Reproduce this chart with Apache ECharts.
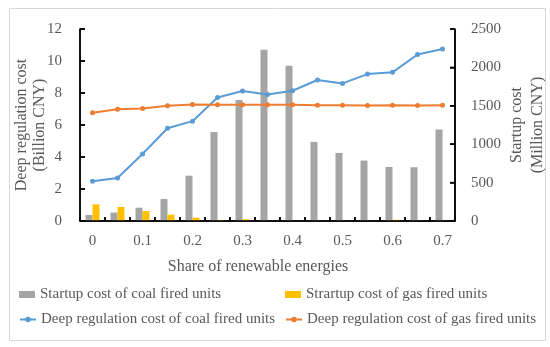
<!DOCTYPE html>
<html>
<head>
<meta charset="utf-8">
<script src="https://cdn.jsdelivr.net/npm/echarts@6/dist/echarts.min.js"></script>
<style>html,body{margin:0;padding:0;background:#fff;}#c{width:550px;height:347px;}</style>
</head>
<body>
<div id="c"></div>
<script>
const categories = ['0','0.05','0.1','0.15','0.2','0.25','0.3','0.35','0.4','0.45','0.5','0.55','0.6','0.65','0.7'];
const coalStartup = [78, 110, 173, 286, 590, 1159, 1576, 2230, 2022, 1030, 887, 787, 704, 700, 1191];
const gasStartup = [217, 183, 130, 83, 43, 13, 22, 2, 2, 2, 2, 2, 15, 2, 2];
const coalDeep = [2.48, 2.69, 4.19, 5.80, 6.24, 7.72, 8.12, 7.91, 8.14, 8.81, 8.60, 9.18, 9.29, 10.41, 10.75];
const gasDeep = [6.76, 6.99, 7.03, 7.20, 7.28, 7.26, 7.26, 7.26, 7.26, 7.24, 7.24, 7.22, 7.24, 7.22, 7.24];
const seriesNames = ['Startup cost of coal fired units', 'Strartup cost of gas fired units', 'Deep regulation cost of coal fired units', 'Deep regulation cost of gas fired units'];
const leftTicks = [0, 2, 4, 6, 8, 10, 12];
const rightTicks = [0, 500, 1000, 1500, 2000, 2500];

const FONT = '"Liberation Serif", "Times New Roman", serif';
const TXT = '#595959';
const COLORS = ['#A5A5A5', '#FFC000', '#5B9BD5', '#ED7D31'];

function lg(name, left, top, icon) {
  const o = {data: [name], left: left, top: top, padding: 0, selectedMode: false, itemWidth: 16, itemHeight: 7,
    textStyle: {fontFamily: FONT, fontSize: 15, color: TXT}};
  if (icon) o.icon = icon;
  return o;
}
const frame = {id: 'frame', type: 'rect', shape: {x: 9.5, y: 8.5, width: 536, height: 332}, style: {fill: 'none', stroke: '#d9d9d9', lineWidth: 1}, silent: true, z: 0};
const AXL = {show: true, lineStyle: {color: '#000', width: 1.5}};
const nameStyle = {fontFamily: FONT, fontSize: 16, color: TXT};

const chart = echarts.init(document.getElementById('c'));
chart.setOption({
  backgroundColor: '#fff',
  animation: false,
  color: COLORS,
  graphic: [frame],
  grid: {left: 80, right: 95, top: 29, bottom: 126, outerBoundsMode: 'none', containLabel: false},
  legend: [
    lg(seriesNames[0], 19, 287, 'rect'),
    lg(seriesNames[1], 285, 287, 'rect'),
    lg(seriesNames[2], 19, 312),
    lg(seriesNames[3], 285, 312)
  ],
  xAxis: {
    type: 'category', data: categories,
    name: 'Share of renewable energies', nameLocation: 'middle', nameGap: 38, nameMoveOverlap: false,
    nameTextStyle: Object.assign({padding: [0, 19, 0, 0]}, nameStyle),
    axisLine: AXL,
    axisTick: {show: true, inside: true, length: 4, interval: 0, lineStyle: {color: '#000', width: 1.5}},
    axisLabel: {interval: 1, fontFamily: FONT, fontSize: 15, color: TXT, margin: 13}
  },
  yAxis: [
    {
      type: 'value', min: leftTicks[0], max: leftTicks[leftTicks.length - 1], interval: leftTicks[1] - leftTicks[0],
      name: 'Deep regulation cost\n(Billion CNY)', nameLocation: 'middle', nameRotate: 90, nameGap: 31, nameMoveOverlap: false,
      nameTextStyle: Object.assign({lineHeight: 18}, nameStyle),
      axisLine: AXL,
      axisTick: {show: true, inside: true, length: 5, lineStyle: {color: '#000', width: 1.5}},
      splitLine: {show: false},
      axisLabel: {margin: 18, fontFamily: FONT, fontSize: 15, color: TXT}
    },
    {
      type: 'value', position: 'right', min: rightTicks[0], max: rightTicks[rightTicks.length - 1], interval: rightTicks[1] - rightTicks[0],
      name: 'Startup cost\n(Million CNY)', nameLocation: 'middle', nameRotate: 90, nameGap: 51, nameMoveOverlap: false,
      nameTextStyle: Object.assign({lineHeight: 21}, nameStyle),
      axisLine: AXL,
      axisTick: {show: true, inside: true, length: 5, lineStyle: {color: '#000', width: 1.5}},
      splitLine: {show: false},
      axisLabel: {margin: 16, fontFamily: FONT, fontSize: 15, color: TXT, formatter: function (v) { return String(v); }}
    }
  ],
  series: [
    {name: seriesNames[0], type: 'bar', yAxisIndex: 1, data: coalStartup, barWidth: 7, barGap: '0%', itemStyle: {color: COLORS[0]}},
    {name: seriesNames[1], type: 'bar', yAxisIndex: 1, data: gasStartup, barWidth: 7, barGap: '0%', itemStyle: {color: COLORS[1]}},
    {name: seriesNames[2], type: 'line', yAxisIndex: 0, data: coalDeep, symbol: 'circle', symbolSize: 5, lineStyle: {width: 2, color: COLORS[2]}, itemStyle: {color: COLORS[2]}},
    {name: seriesNames[3], type: 'line', yAxisIndex: 0, data: gasDeep, symbol: 'circle', symbolSize: 5, lineStyle: {width: 2, color: COLORS[3]}, itemStyle: {color: COLORS[3]}}
  ]
});

// Axis frame and ticks, positioned through the chart's own scales.
try {
  const px = function (finder, v) { return chart.convertToPixel(finder, v); };
  const c0 = px({xAxisIndex: 0}, categories[0]);
  const c1 = px({xAxisIndex: 0}, categories[1]);
  const band = c1 - c0;
  const xL = c0 - band / 2;
  const xR = xL + band * categories.length;
  const yB = px({yAxisIndex: 0}, leftTicks[0]);
  const yT = px({yAxisIndex: 0}, leftTicks[leftTicks.length - 1]);
  const els = [frame];
  const ls = {stroke: '#000', lineWidth: 1.5};
  function ln(id, x1, y1, x2, y2) { els.push({id: id, type: 'line', silent: true, z: 10, shape: {x1: x1, y1: y1, x2: x2, y2: y2}, style: ls}); }
  if (isFinite(xL) && isFinite(xR) && isFinite(yB) && isFinite(yT)) {
    ln('ax', xL, yB, xR, yB);
    ln('ayl', xL, yB, xL, yT);
    ln('ayr', xR, yB, xR, yT);
    for (let k = 1; k < categories.length; k++) ln('xt' + k, xL + k * band, yB, xL + k * band, yB - 4);
    leftTicks.forEach(function (v, i) { const y = px({yAxisIndex: 0}, v); ln('lt' + i, xL, y, xL + 5, y); });
    rightTicks.forEach(function (v, i) { const y = px({yAxisIndex: 1}, v); ln('rt' + i, xR, y, xR - 5, y); });
    chart.setOption({graphic: els});
  }
} catch (e) {}
</script>
</body>
</html>
